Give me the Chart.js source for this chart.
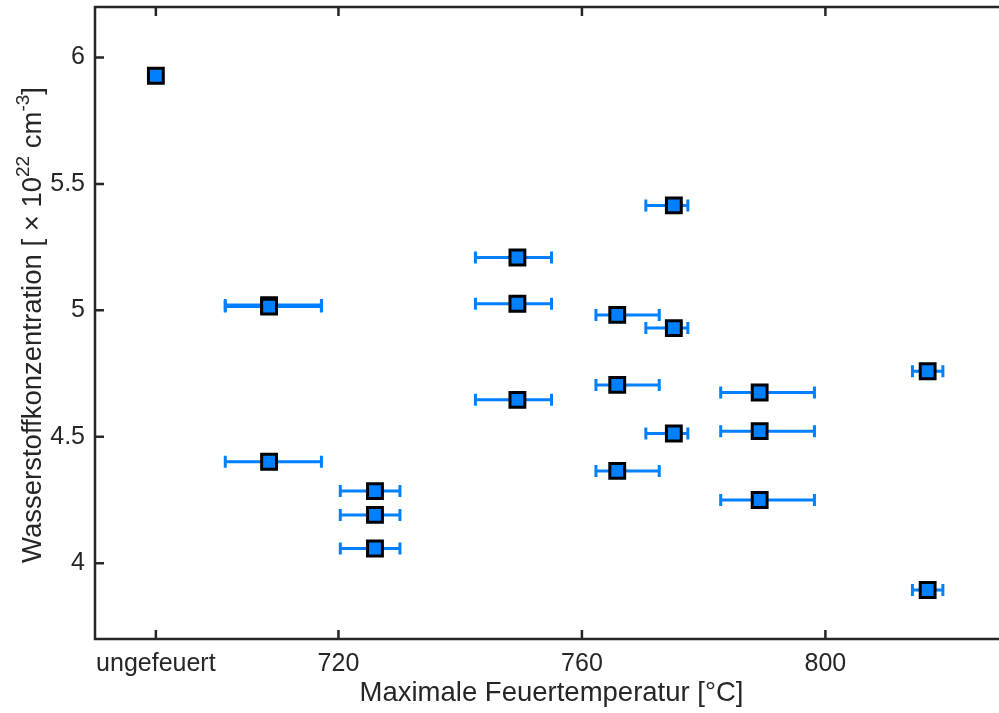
<!DOCTYPE html>
<html><head><meta charset="utf-8">
<script src="https://cdn.jsdelivr.net/npm/chart.js@4.4.0/dist/chart.umd.min.js"></script>
<style>
html,body{margin:0;padding:0;overflow:hidden;background:#fff;width:999px;height:713px}
#wrap{position:absolute;left:0;top:0;width:1012px;height:713px}
</style></head>
<body><div id="wrap"><canvas id="c"></canvas></div>
<script>
// ---- data ----
const temperatures   = [690, 708.6, 708.6, 708.6, 726.0, 726.0, 726.0, 749.4, 749.4, 749.4, 765.8, 765.8, 765.8, 775.1, 775.1, 775.1, 789.2, 789.2, 789.2, 816.8, 816.8];
const concentrations = [5.928, 5.021, 5.015, 4.401, 4.285, 4.191, 4.058, 5.209, 5.026, 4.646, 4.982, 4.705, 4.365, 5.415, 4.930, 4.513, 4.675, 4.522, 4.250, 4.759, 3.894];
const tempErrMinus   = [0, 7.2, 7.2, 7.2, 5.7, 5.7, 5.7, 6.9, 6.9, 6.9, 3.5, 3.5, 3.5, 4.6, 4.6, 4.6, 6.4, 6.4, 6.4, 2.5, 2.5];
const tempErrPlus    = [0, 8.6, 8.6, 8.6, 4.1, 4.1, 4.1, 5.6, 5.6, 5.6, 6.9, 6.9, 6.9, 2.3, 2.3, 2.3, 9.0, 9.0, 9.0, 2.5, 2.5];
const xTickValues = [690, 720, 760, 800];
const xTickLabels = ['ungefeuert', '720', '760', '800'];
const yTickValues = [4, 4.5, 5, 5.5, 6];
const yTickLabels = ['4', '4.5', '5', '5.5', '6'];
const xTitle = 'Maximale Feuertemperatur [°C]';
// y title pieces: [text, isSuperscript]
const yTitleParts = [['Wasserstoffkonzentration [ × 10', false], ['22', true], [' cm', false], ['-3', true], [']', false]];

const BLUE = 'rgb(0,128,255)';
const AXIS = '#262626';
const FONT = "'Liberation Sans', Arial, sans-serif";

const errorBars = {
  id: 'errorBars',
  beforeDatasetsDraw(chart) {
    const {ctx, scales: {x, y}} = chart;
    ctx.save();
    ctx.strokeStyle = BLUE;
    ctx.lineWidth = 3;
    temperatures.forEach((t, i) => {
      if (!tempErrMinus[i] && !tempErrPlus[i]) return;
      const py = y.getPixelForValue(concentrations[i]);
      const x0 = x.getPixelForValue(t - tempErrMinus[i]);
      const x1 = x.getPixelForValue(t + tempErrPlus[i]);
      ctx.beginPath();
      ctx.moveTo(x0, py); ctx.lineTo(x1, py);
      ctx.moveTo(x0, py - 6); ctx.lineTo(x0, py + 6);
      ctx.moveTo(x1, py - 6); ctx.lineTo(x1, py + 6);
      ctx.stroke();
    });
    ctx.restore();
  }
};

const boxTicks = {
  id: 'boxTicks',
  afterDatasetsDraw(chart) {
    const {ctx, chartArea: a, scales: {x, y}} = chart;
    const L = 9;
    ctx.save();
    ctx.strokeStyle = AXIS;
    ctx.lineWidth = 2.5;
    ctx.beginPath();
    xTickValues.forEach(v => {
      const px = x.getPixelForValue(v);
      ctx.moveTo(px, a.bottom); ctx.lineTo(px, a.bottom - L);
      ctx.moveTo(px, a.top); ctx.lineTo(px, a.top + L);
    });
    yTickValues.forEach(v => {
      const py = y.getPixelForValue(v);
      ctx.moveTo(a.left, py); ctx.lineTo(a.left + L, py);
      ctx.moveTo(a.right, py); ctx.lineTo(a.right - L, py);
    });
    ctx.stroke();
    ctx.beginPath();
    ctx.rect(a.left, a.top, a.right - a.left, a.bottom - a.top);
    ctx.stroke();
    ctx.restore();
  }
};

const yTitlePlugin = {
  id: 'yTitle',
  afterDraw(chart) {
    const {ctx, chartArea: a} = chart;
    const base = '27.5px ' + FONT, sup = '19px ' + FONT;
    ctx.save();
    let total = 0;
    const widths = yTitleParts.map(([t, s]) => { ctx.font = s ? sup : base; const w = ctx.measureText(t).width; total += w; return w; });
    ctx.translate(41, (a.top + a.bottom) / 2 + 2);
    ctx.rotate(-Math.PI / 2);
    ctx.fillStyle = AXIS;
    ctx.textBaseline = 'alphabetic';
    ctx.textAlign = 'left';
    let cx = -total / 2;
    yTitleParts.forEach(([t, s], i) => {
      ctx.font = s ? sup : base;
      ctx.fillText(t, cx, s ? -12 : 0);
      cx += widths[i];
    });
    ctx.restore();
  }
};

new Chart(document.getElementById('c'), {
  type: 'scatter',
  data: {
    datasets: [{
      data: temperatures.map((t, i) => ({x: t, y: concentrations[i]})),
      pointStyle: 'rect',
      pointRadius: 10.5,
      pointHoverRadius: 10.5,
      pointBackgroundColor: BLUE,
      pointBorderColor: '#000',
      pointBorderWidth: 3,
      pointHoverBorderWidth: 3
    }]
  },
  options: {
    responsive: true,
    maintainAspectRatio: false,
    devicePixelRatio: 1,
    animation: false,
    layout: {autoPadding: false, padding: {top: 7, right: 4, left: 0, bottom: 0}},
    plugins: {legend: {display: false}, tooltip: {enabled: false}},
    scales: {
      x: {
        type: 'linear', min: 680, max: 830,
        afterBuildTicks: s => { s.ticks = xTickValues.map(v => ({value: v})); },
        afterFit: s => { s.height = 74; s.paddingLeft = 0; s.paddingRight = 0; },
        ticks: {
          callback: v => xTickLabels[xTickValues.indexOf(v)],
          font: {family: FONT, size: 25}, color: AXIS, padding: 10,
          maxRotation: 0, autoSkip: false
        },
        grid: {display: false, drawTicks: false},
        border: {display: false},
        title: {display: true, text: xTitle,
          font: {family: FONT, size: 27.5}, color: AXIS, padding: {top: 0, bottom: 3}}
      },
      y: {
        type: 'linear', min: 3.7, max: 6.2,
        afterBuildTicks: s => { s.ticks = yTickValues.map(v => ({value: v})); },
        afterFit: s => { s.width = 95; s.paddingTop = 0; s.paddingBottom = 0; },
        ticks: {
          callback: v => yTickLabels[yTickValues.indexOf(v)],
          font: {family: FONT, size: 25}, color: AXIS, padding: 10
        },
        grid: {display: false, drawTicks: false},
        border: {display: false},
        title: {display: false}
      }
    }
  },
  plugins: [errorBars, boxTicks, yTitlePlugin]
});
</script>
</body></html>
